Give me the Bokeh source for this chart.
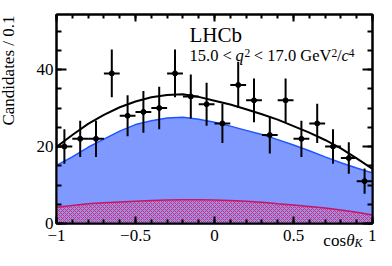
from bokeh.plotting import figure
from bokeh.models import Range1d, FixedTicker, LinearAxis, Label, ColumnDataSource, Title
from bokeh.embed import file_html
from bokeh.resources import INLINE

# ---- data ----
bin_centers = [-0.95, -0.85, -0.75, -0.65, -0.55, -0.45, -0.35, -0.25, -0.15, -0.05,
               0.05, 0.15, 0.25, 0.35, 0.45, 0.55, 0.65, 0.75, 0.85, 0.95]
bin_half_width = 0.05
counts = [20, 22, 22, 39, 28, 29, 30, 39, 33, 31,
          26, 36, 32, 23, 32, 22, 26, 20, 17, 11]
errors = [4.5, 4.7, 4.7, 6.2, 5.3, 5.4, 5.5, 6.2, 5.7, 5.6,
          5.1, 6.0, 5.7, 4.8, 5.7, 4.7, 5.1, 4.5, 4.1, 3.3]

curve_x = [-1.0, -0.9, -0.8, -0.7, -0.6, -0.5, -0.4, -0.3, -0.2, -0.1, 0.0,
           0.1, 0.2, 0.3, 0.4, 0.5, 0.6, 0.7, 0.8, 0.9, 1.0]
total_fit = [19.9, 23.0, 25.9, 28.2, 30.2, 31.7, 32.8, 33.4, 33.6, 32.9, 31.9,
             30.9, 29.7, 28.4, 27.0, 25.3, 23.6, 21.7, 19.5, 16.9, 14.2]
signal_stack = [15.1, 17.3, 19.8, 21.9, 24.0, 25.7, 26.7, 27.4, 27.6, 27.1, 26.3,
                25.3, 24.2, 23.1, 21.8, 20.4, 18.9, 17.3, 15.8, 14.4, 13.1]
background = [4.2, 4.7, 5.1, 5.4, 5.6, 5.8, 6.0, 6.1, 6.2, 6.2, 6.1,
              6.0, 5.8, 5.5, 5.1, 4.8, 4.4, 4.0, 3.5, 2.9, 2.2]

x_major_ticks = [-1.0, -0.5, 0.0, 0.5, 1.0]
x_tick_labels = ["\u22121", "\u22120.5", "0", "0.5", "1"]
x_minor_ticks = [-1.0, -0.9, -0.8, -0.7, -0.6, -0.5, -0.4, -0.3, -0.2, -0.1, 0.0,
                 0.1, 0.2, 0.3, 0.4, 0.5, 0.6, 0.7, 0.8, 0.9, 1.0]
y_major_ticks = [0, 20, 40]
y_minor_ticks = [0, 5, 10, 15, 20, 25, 30, 35, 40, 45, 50]

FONT = "Liberation Serif"

p = figure(frame_width=316, frame_height=209, output_backend="svg", toolbar_location=None,
           x_range=Range1d(-1, 1), y_range=Range1d(0, 54.3),
           min_border_left=56, min_border_right=4, min_border_top=14, min_border_bottom=27,
           x_axis_location=None, y_axis_location=None)
p.grid.visible = False
p.outline_line_color = "black"
p.outline_line_width = 2
p.background_fill_color = "white"
p.border_fill_color = "white"

def style_axis(ax, major_in, minor_in, labels=True):
    ax.axis_line_width = 2
    ax.major_tick_line_width = 2
    ax.minor_tick_line_width = 2
    ax.major_tick_in = major_in
    ax.major_tick_out = 0
    ax.minor_tick_in = minor_in
    ax.minor_tick_out = 0
    ax.major_label_text_font = FONT
    if labels:
        ax.major_label_text_font_size = "17px"
        ax.major_label_text_color = "black"
    else:
        ax.major_label_text_font_size = "0px"
        ax.major_label_text_color = None
        ax.major_label_standoff = 0

xt = FixedTicker(ticks=x_major_ticks, minor_ticks=x_minor_ticks)
yt = FixedTicker(ticks=y_major_ticks, minor_ticks=y_minor_ticks)

xb = LinearAxis(ticker=xt, major_label_overrides=dict(zip(x_major_ticks, x_tick_labels)))
style_axis(xb, 7, 4)
xb.major_label_standoff = 6
p.add_layout(xb, "below")
xtop = LinearAxis(ticker=xt)
style_axis(xtop, 7, 4, labels=False)
p.add_layout(xtop, "above")

yl = LinearAxis(ticker=yt)
style_axis(yl, 10, 5)
yl.major_label_standoff = 3
p.add_layout(yl, "left")
yr = LinearAxis(ticker=yt)
style_axis(yr, 10, 5, labels=False)
p.add_layout(yr, "right")

src = ColumnDataSource(dict(x=curve_x, tot=total_fit, sig=signal_stack, bkg=background,
                            zero=[0] * len(curve_x)))
p.varea(x="x", y1="zero", y2="sig", source=src, fill_color="#7f99ff")
p.varea(x="x", y1="zero", y2="bkg", source=src, fill_color="#7f99ff",
        hatch_pattern="diagonal_cross", hatch_color="#ff2050", hatch_scale=4, hatch_weight=1)
p.line(x="x", y="bkg", source=src, line_color="#c0186a", line_width=1.5)
p.line(x="x", y="sig", source=src, line_color="#1f55ff", line_width=1.5)
p.line(x="x", y="tot", source=src, line_color="black", line_width=2)

dsrc = ColumnDataSource(dict(
    x=bin_centers, y=counts,
    lo=[c - e for c, e in zip(counts, errors)], hi=[c + e for c, e in zip(counts, errors)],
    xl=[b - bin_half_width for b in bin_centers], xr=[b + bin_half_width for b in bin_centers]))
p.segment(x0="x", y0="lo", x1="x", y1="hi", source=dsrc, line_color="black", line_width=2)
p.segment(x0="xl", y0="y", x1="xr", y1="y", source=dsrc, line_color="black", line_width=2)
p.scatter(x="x", y="y", source=dsrc, size=5, color="black")

def lab(text, x, y, size, xo=0, yo=0, style="normal"):
    p.add_layout(Label(x=x, y=y, text=text, x_offset=xo, y_offset=yo, text_font=FONT,
                       text_font_size=size, text_font_style=style, text_color="black",
                       text_baseline="bottom"))

# LHCb and q^2 bin (inside the frame); anchors are the bottoms of the text boxes
lab("LHCb", -0.158, 45.8, "21px")
ax0, ay0 = -0.158, 41.1
lab("15.0 <", ax0, ay0, "16.5px", xo=0)
lab("q", ax0, ay0, "16.5px", xo=46, style="italic")
lab("2", ax0, ay0, "11.5px", xo=55, yo=8)
lab("< 17.0 GeV", ax0, ay0, "16.5px", xo=64.3)
lab("2", ax0, ay0, "11.5px", xo=142, yo=8)
lab("/", ax0, ay0, "16.5px", xo=147.4)
lab("c", ax0, ay0, "16.5px", xo=152, style="italic")
lab("4", ax0, ay0, "11.5px", xo=159.3, yo=8)

# axis titles as side-panel titles
def title(text, side, size, style="normal", offset=0, standoff=0, valign="bottom"):
    t = Title(text=text, align="right", vertical_align=valign, offset=offset, standoff=standoff,
              text_font=FONT, text_font_size=size, text_font_style=style, text_color="black")
    p.add_layout(t, side)

title("Candidates / 0.1", "left", "17px", offset=1, standoff=-69, valign="top")

title("\u03b8", "below", "17px", style="italic", offset=18, standoff=-24.2, valign="top")
title("cos", "below", "17px", offset=26.5, standoff=-24.2, valign="top")
title("K", "below", "12px", style="italic", offset=10, standoff=-14.6, valign="top")

open("out.html", "w").write(file_html(p, INLINE))
